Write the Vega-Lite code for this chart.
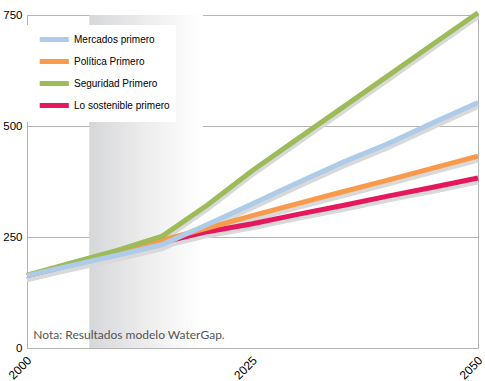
{
  "$schema": "https://vega.github.io/schema/vega-lite/v6.json",
  "width": 451,
  "height": 333,
  "autosize": {"type": "none"},
  "padding": {"left": 27, "top": 15, "right": 7, "bottom": 33},
  "background": "white",
  "config": {
    "view": {"stroke": "#b4b4b4", "strokeWidth": 1},
    "font": "Liberation Sans, sans-serif"
  },
  "datasets": {
    "series": [
      {"year": 2000, "scenario": "Lo sostenible primero", "value": 163},
      {"year": 2005, "scenario": "Lo sostenible primero", "value": 188},
      {"year": 2010, "scenario": "Lo sostenible primero", "value": 212},
      {"year": 2015, "scenario": "Lo sostenible primero", "value": 238},
      {"year": 2020, "scenario": "Lo sostenible primero", "value": 262},
      {"year": 2025, "scenario": "Lo sostenible primero", "value": 280},
      {"year": 2030, "scenario": "Lo sostenible primero", "value": 301},
      {"year": 2035, "scenario": "Lo sostenible primero", "value": 321},
      {"year": 2040, "scenario": "Lo sostenible primero", "value": 342},
      {"year": 2045, "scenario": "Lo sostenible primero", "value": 362},
      {"year": 2050, "scenario": "Lo sostenible primero", "value": 383},
      {"year": 2000, "scenario": "Política Primero", "value": 163},
      {"year": 2005, "scenario": "Política Primero", "value": 189},
      {"year": 2010, "scenario": "Política Primero", "value": 214},
      {"year": 2015, "scenario": "Política Primero", "value": 243},
      {"year": 2020, "scenario": "Política Primero", "value": 270},
      {"year": 2025, "scenario": "Política Primero", "value": 298},
      {"year": 2030, "scenario": "Política Primero", "value": 325},
      {"year": 2035, "scenario": "Política Primero", "value": 352},
      {"year": 2040, "scenario": "Política Primero", "value": 378},
      {"year": 2045, "scenario": "Política Primero", "value": 405},
      {"year": 2050, "scenario": "Política Primero", "value": 432},
      {"year": 2000, "scenario": "Seguridad Primero", "value": 164},
      {"year": 2005, "scenario": "Seguridad Primero", "value": 192},
      {"year": 2010, "scenario": "Seguridad Primero", "value": 220},
      {"year": 2015, "scenario": "Seguridad Primero", "value": 252},
      {"year": 2020, "scenario": "Seguridad Primero", "value": 322},
      {"year": 2025, "scenario": "Seguridad Primero", "value": 400},
      {"year": 2030, "scenario": "Seguridad Primero", "value": 471},
      {"year": 2035, "scenario": "Seguridad Primero", "value": 542},
      {"year": 2040, "scenario": "Seguridad Primero", "value": 613},
      {"year": 2045, "scenario": "Seguridad Primero", "value": 684},
      {"year": 2050, "scenario": "Seguridad Primero", "value": 755},
      {"year": 2000, "scenario": "Mercados primero", "value": 163},
      {"year": 2005, "scenario": "Mercados primero", "value": 186},
      {"year": 2010, "scenario": "Mercados primero", "value": 209},
      {"year": 2015, "scenario": "Mercados primero", "value": 233},
      {"year": 2020, "scenario": "Mercados primero", "value": 278},
      {"year": 2025, "scenario": "Mercados primero", "value": 325},
      {"year": 2030, "scenario": "Mercados primero", "value": 372},
      {"year": 2035, "scenario": "Mercados primero", "value": 418},
      {"year": 2040, "scenario": "Mercados primero", "value": 460},
      {"year": 2045, "scenario": "Mercados primero", "value": 507},
      {"year": 2050, "scenario": "Mercados primero", "value": 553}
    ],
    "band": [{"start": 2006.9, "end": 2019.5, "low": 0, "high": 750}],
    "note": [{"year": 2000.7, "value": 29, "text": "Nota: Resultados modelo WaterGap."}]
  },
  "layer": [
    {
      "data": {"name": "band"},
      "mark": {
        "type": "rect",
        "color": {
          "gradient": "linear",
          "x1": 0, "x2": 1, "y1": 0, "y2": 0,
          "stops": [
            {"offset": 0, "color": "#d6d7d9"},
            {"offset": 0.5, "color": "#ededee"},
            {"offset": 1, "color": "#ffffff"}
          ]
        }
      },
      "encoding": {
        "x": {"field": "start", "type": "quantitative", "scale": {"domain": [2000, 2050]}},
        "x2": {"field": "end"},
        "y": {"field": "low", "type": "quantitative", "scale": {"domain": [0, 750]}},
        "y2": {"field": "high"}
      }
    },
    {
      "data": {"name": "series"},
      "mark": {"type": "line", "strokeWidth": 5, "color": "#d9d9d9", "yOffset": 4, "strokeCap": "butt"},
      "encoding": {
        "x": {"field": "year", "type": "quantitative"},
        "y": {"field": "value", "type": "quantitative"},
        "detail": {"field": "scenario"}
      }
    },
    {
      "data": {"name": "series"},
      "mark": {"type": "line", "strokeWidth": 5, "strokeCap": "butt"},
      "encoding": {
        "x": {
          "field": "year", "type": "quantitative",
          "scale": {"domain": [2000, 2050], "nice": false},
          "axis": {
            "title": null,
            "values": [2000, 2025, 2050],
            "format": "d",
            "grid": false,
            "ticks": false,
            "domainColor": "#b4b4b4",
            "labelAngle": -45,
            "labelAlign": "right",
            "labelBaseline": "middle",
            "labelFontSize": 12,
            "labelColor": "#000000",
            "labelPadding": 10,
            "labelOffset": 2
          }
        },
        "y": {
          "field": "value", "type": "quantitative",
          "scale": {"domain": [0, 750], "nice": false},
          "axis": {
            "title": null,
            "values": [0, 250, 500, 750],
            "grid": true,
            "gridColor": "#b4b4b4",
            "ticks": false,
            "domainColor": "#b4b4b4",
            "labelFontSize": 11.5,
            "labelColor": "#000000",
            "labelPadding": 5
          }
        },
        "color": {
          "field": "scenario", "type": "nominal",
          "scale": {
            "domain": ["Mercados primero", "Política Primero", "Seguridad Primero", "Lo sostenible primero"],
            "range": ["#aecbea", "#f89a4c", "#9dbb59", "#e5185d"]
          },
          "legend": {
            "orient": "none",
            "legendX": 0,
            "legendY": 10,
            "title": null,
            "fillColor": "white",
            "padding": 6,
            "symbolType": "M-0.3,0H4.55",
            "symbolSize": 144,
            "symbolStrokeWidth": 5,
            "rowPadding": 1,
            "labelOffset": 24,
            "labelFontSize": 10,
            "labelColor": "#000000"
          }
        }
      }
    },
    {
      "data": {"name": "note"},
      "mark": {"type": "text", "align": "left", "baseline": "middle", "font": "Lato, DejaVu Sans, sans-serif", "fontSize": 12, "color": "#555555"},
      "encoding": {
        "x": {"field": "year", "type": "quantitative"},
        "y": {"field": "value", "type": "quantitative"},
        "text": {"field": "text"}
      }
    }
  ]
}
